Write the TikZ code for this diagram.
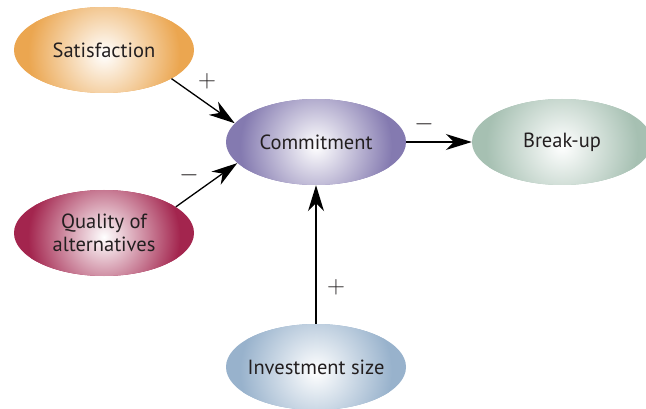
\documentclass[tikz,border=0pt]{standalone}
\usepackage{fontspec}
\setmainfont{PT Sans}
\usetikzlibrary{arrows.meta,shapes.geometric}
\definecolor{satcol}{RGB}{235,166,80}
\definecolor{comcol}{RGB}{132,122,176}
\definecolor{brkcol}{RGB}{166,192,178}
\definecolor{qalcol}{RGB}{163,37,78}
\definecolor{invcol}{RGB}{152,178,204}
\definecolor{txt}{RGB}{35,31,32}
\tikzset{
  blob/.style={ellipse, inner sep=0pt, minimum width=180pt, minimum height=86pt},
  lbl/.style={text=txt, align=center, inner sep=0pt, font=\fontsize{20.5}{23}\selectfont},
  link/.style={draw=black, line width=1.3pt, -{Stealth[length=26pt,width=16pt,inset=8pt]}},
  sign/.style={text=txt, inner sep=0pt, font=\fontsize{24}{24}\selectfont},
  glow/.style={inner color=white, outer color=#1}
}
\newcommand{\glowin}[2]{%
  \begin{scope}
    \clip (#1.center) ellipse [x radius=90pt, y radius=43pt];
    \shade[glow=#2] ([yshift=-4pt]#1.center) circle [radius=76pt];
  \end{scope}}
\begin{document}
\begin{tikzpicture}[x=1pt,y=-1pt]
\useasboundingbox (0,0) rectangle (646,409);
\node[blob, fill=satcol] (sat) at (104,50) {};
\node[blob, fill=comcol] (com) at (316,142) {};
\node[blob, fill=brkcol] (brk) at (562,142) {};
\node[blob, fill=qalcol] (qal) at (104,233) {};
\node[blob, fill=invcol] (inv) at (316,367) {};
\glowin{sat}{satcol}
\glowin{com}{comcol}
\glowin{brk}{brkcol}
\glowin{qal}{qalcol}
\glowin{inv}{invcol}
\node[lbl] (satt) at (sat) {Satisfaction};
\node[lbl] (comt) at (com) {Commitment};
\node[lbl] (brkt) at (brk) {Break-up};
\node[lbl] (qalt) at (qal) {Quality of\\alternatives};
\node[lbl] (invt) at (inv) {Investment size};
\draw[link] (sat.-23) -- (com.167);
\draw[link] (qal.20.6) -- (com.-165.5);
\draw[link] (com.east) -- (brk.west);
\draw[link] (inv.north) -- (com.south);
\node[sign] (s1) at (207,81) {$+$};
\node[sign] (s2) at (189,175) {$-$};
\node[sign] (s3) at (424,124) {$-$};
\node[sign] (s4) at (336,287) {$+$};
\end{tikzpicture}
\end{document}
